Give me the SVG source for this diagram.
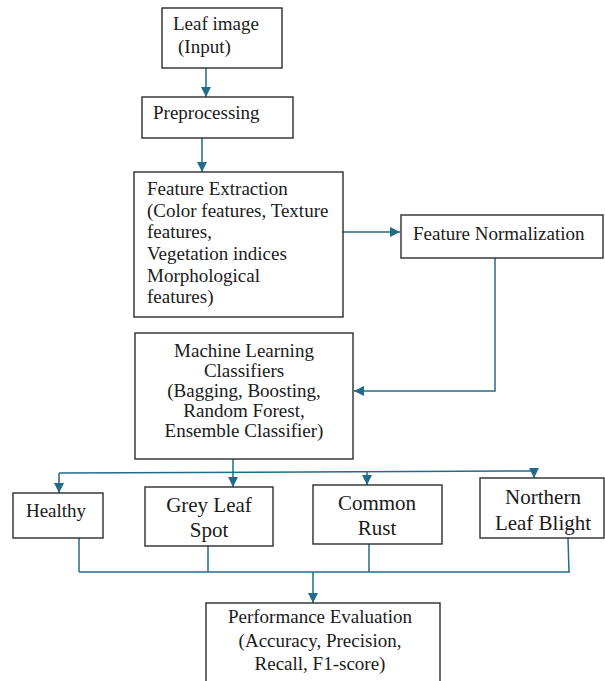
<svg xmlns="http://www.w3.org/2000/svg" width="605" height="681" viewBox="0 0 605 681">
<defs>
<marker id="ah" markerUnits="userSpaceOnUse" markerWidth="12" markerHeight="12" refX="10" refY="5" orient="auto">
<path d="M0,0 L10,5 L0,10 z" fill="#236b8a"/>
</marker>
<style>
.box{fill:#fff;stroke:#2b2b2b;stroke-width:1.4}
.t{font-family:"Liberation Serif","Times New Roman",serif;font-size:19px;fill:#1a1a1a}
.c{font-size:21px}
.mid{text-anchor:middle}
.ln{fill:none;stroke:#236b8a;stroke-width:1.5}
</style>
</defs>
<rect width="605" height="681" fill="#fff"/>
<g id="connectors">
<line class="ln" x1="206" y1="68" x2="206" y2="97" marker-end="url(#ah)"/>
<line class="ln" x1="202" y1="138" x2="202" y2="172" marker-end="url(#ah)"/>
<line class="ln" x1="343" y1="232" x2="400" y2="232" marker-end="url(#ah)"/>
<polyline class="ln" points="495,258 495,391 354,391" marker-end="url(#ah)"/>
<line class="ln" x1="233" y1="459" x2="233" y2="472"/>
<line class="ln" x1="59" y1="473" x2="534" y2="471"/>
<line class="ln" x1="59" y1="473" x2="59" y2="493" marker-end="url(#ah)"/>
<line class="ln" x1="233" y1="472" x2="233" y2="487" marker-end="url(#ah)"/>
<line class="ln" x1="367" y1="471.5" x2="367" y2="485" marker-end="url(#ah)"/>
<line class="ln" x1="534" y1="471" x2="534" y2="478" marker-end="url(#ah)"/>
<line class="ln" x1="79" y1="538" x2="79" y2="572"/>
<line class="ln" x1="208" y1="546" x2="208" y2="572"/>
<line class="ln" x1="369" y1="544" x2="369" y2="572"/>
<line class="ln" x1="568" y1="538" x2="569" y2="572"/>
<line class="ln" x1="79" y1="572" x2="570" y2="572"/>
<line class="ln" x1="313" y1="572" x2="313" y2="603" marker-end="url(#ah)"/>
</g>
<g id="leaf-image">
<rect class="box" x="162" y="8" width="120" height="60"/>
<text class="t" x="173" y="30">Leaf image</text>
<text class="t" x="178" y="53">(Input)</text>
</g>
<g id="preprocessing">
<rect class="box" x="142" y="97" width="151" height="41"/>
<text class="t" x="153" y="119">Preprocessing</text>
</g>
<g id="feature-extraction">
<rect class="box" x="134" y="172" width="209" height="145"/>
<text class="t" x="147" y="195">Feature Extraction</text>
<text class="t" x="147" y="217">(Color features, Texture</text>
<text class="t" x="147" y="238">features,</text>
<text class="t" x="147" y="260">Vegetation indices</text>
<text class="t" x="147" y="282">Morphological</text>
<text class="t" x="147" y="303">features)</text>
</g>
<g id="feature-normalization">
<rect class="box" x="401" y="215" width="202" height="43"/>
<text class="t" x="413" y="240">Feature Normalization</text>
</g>
<g id="ml-classifiers">
<rect class="box" x="135" y="333" width="218" height="126"/>
<text class="t mid" x="244" y="357">Machine Learning</text>
<text class="t mid" x="244" y="377">Classifiers</text>
<text class="t mid" x="244" y="397">(Bagging, Boosting,</text>
<text class="t mid" x="244" y="417">Random Forest,</text>
<text class="t mid" x="244" y="437">Ensemble Classifier)</text>
</g>
<g id="healthy">
<rect class="box" x="13" y="493" width="90" height="45"/>
<text class="t mid" x="56" y="517">Healthy</text>
</g>
<g id="grey-leaf-spot">
<rect class="box" x="145" y="487" width="128" height="59"/>
<text class="t c mid" x="209" y="512">Grey Leaf</text>
<text class="t c mid" x="209" y="537">Spot</text>
</g>
<g id="common-rust">
<rect class="box" x="313" y="485" width="129" height="59"/>
<text class="t c mid" x="377" y="510">Common</text>
<text class="t c mid" x="377" y="535">Rust</text>
</g>
<g id="northern-leaf-blight">
<rect class="box" x="480" y="478" width="124" height="60"/>
<text class="t c mid" x="543" y="504">Northern</text>
<text class="t c mid" x="543" y="530">Leaf Blight</text>
</g>
<g id="performance-evaluation">
<rect class="box" x="206" y="603" width="234" height="90"/>
<text class="t mid" x="320" y="623">Performance Evaluation</text>
<text class="t mid" x="320" y="647">(Accuracy, Precision,</text>
<text class="t mid" x="320" y="670">Recall, F1-score)</text>
</g>
</svg>
